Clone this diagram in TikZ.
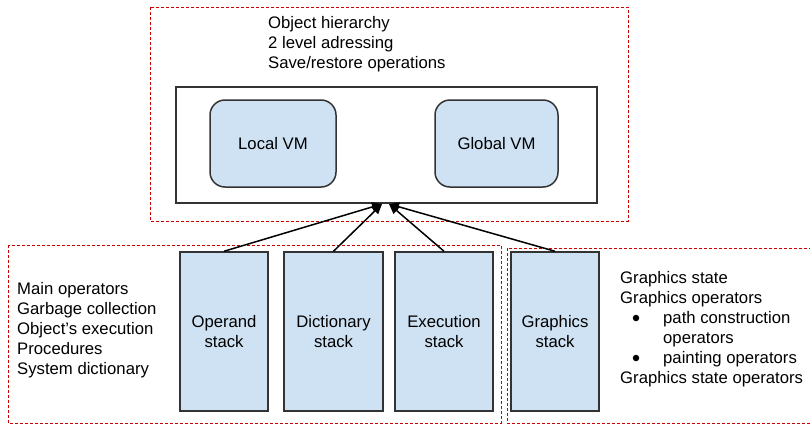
\documentclass[tikz,border=0pt]{standalone}
\usepackage{fontspec}
\setmainfont{Liberation Sans}
\usetikzlibrary{arrows.meta}
\definecolor{boxfill}{HTML}{CFE2F3}
\definecolor{boxline}{HTML}{333333}
\definecolor{dashred}{HTML}{CC0000}
\begin{document}
\begin{tikzpicture}[x=1pt,y=-1pt,
  txt/.style={anchor=base west,inner sep=0pt,font=\fontsize{16.7}{20}\selectfont},
  region/.style={draw=dashred,line width=0.8pt,dash pattern=on 3pt off 2pt},
  vmbox/.style={draw=boxline,fill=boxfill,line width=1.5pt,rounded corners=15pt},
  stackbox/.style={draw=boxline,fill=boxfill,line width=1.5pt},
  lbl/.style={font=\fontsize{16.7}{20}\selectfont,align=center},
  conn/.style={line width=1.5pt,-{Triangle[length=10pt,width=9pt]}},
  bul/.style={circle,fill=black,inner sep=0pt,minimum size=6.5pt}
]
\useasboundingbox (0,0) rectangle (810,424);
% regions
\draw[region] (150,7) rectangle (628,221);
\draw[region] (8,245) rectangle (501,423);
\draw[region] (507,248) rectangle (812,423);
% memory box
\draw[draw=boxline,line width=1.5pt] (176,87) rectangle (597,203);
\node[vmbox,minimum width=126pt,minimum height=87pt] (local) at (273,143.5) {};
\node[lbl] (localt) at (local.center) {Local VM};
\node[vmbox,minimum width=123pt,minimum height=87pt] (global) at (496.5,143.5) {};
\node[lbl] (globalt) at (global.center) {Global VM};
% top text
\node[txt] (t1) at (268,28) {Object hierarchy};
\node[txt] (t2) at (268,48) {2 level adressing};
\node[txt] (t3) at (268,68) {Save/restore operations};
% stacks
\node[stackbox,minimum width=88pt,minimum height=159pt] (op) at (224,331.5) {};
\node[lbl] at (op.center) {Operand\\stack};
\node[stackbox,minimum width=99pt,minimum height=159pt] (dict) at (333.5,331.5) {};
\node[lbl] at (dict.center) {Dictionary\\stack};
\node[stackbox,minimum width=98pt,minimum height=159pt] (exec) at (444,331.5) {};
\node[lbl] at (exec.center) {Execution\\stack};
\node[stackbox,minimum width=88pt,minimum height=159pt] (gr) at (555,331.5) {};
\node[lbl] at (gr.center) {Graphics\\stack};
% arrows
\coordinate (h1) at (382,204);
\coordinate (h2) at (389,204);
\draw[conn] (op.north) -- (h1);
\draw[conn] (dict.north) -- (h1);
\draw[conn] (exec.north) -- (h2);
\draw[conn] (gr.north) -- (h2);
% left text
\node[txt] (l1) at (17,294) {Main operators};
\node[txt] (l2) at (17,314) {Garbage collection};
\node[txt] (l3) at (17,334) {Object’s execution};
\node[txt] (l4) at (17,354) {Procedures};
\node[txt] (l5) at (17,374) {System dictionary};
% right text
\node[txt] (r1) at (620,283) {Graphics state};
\node[txt] (r2) at (620,303) {Graphics operators};
\node[bul] (b1) at (636,318) {};
\node[txt] (r3) at (663,323) {path construction};
\node[txt] (r4) at (663,343) {operators};
\node[bul] (b2) at (636,358) {};
\node[txt] (r5) at (663,363) {painting operators};
\node[txt] (r6) at (620,383) {Graphics state operators};
\end{tikzpicture}
\end{document}
